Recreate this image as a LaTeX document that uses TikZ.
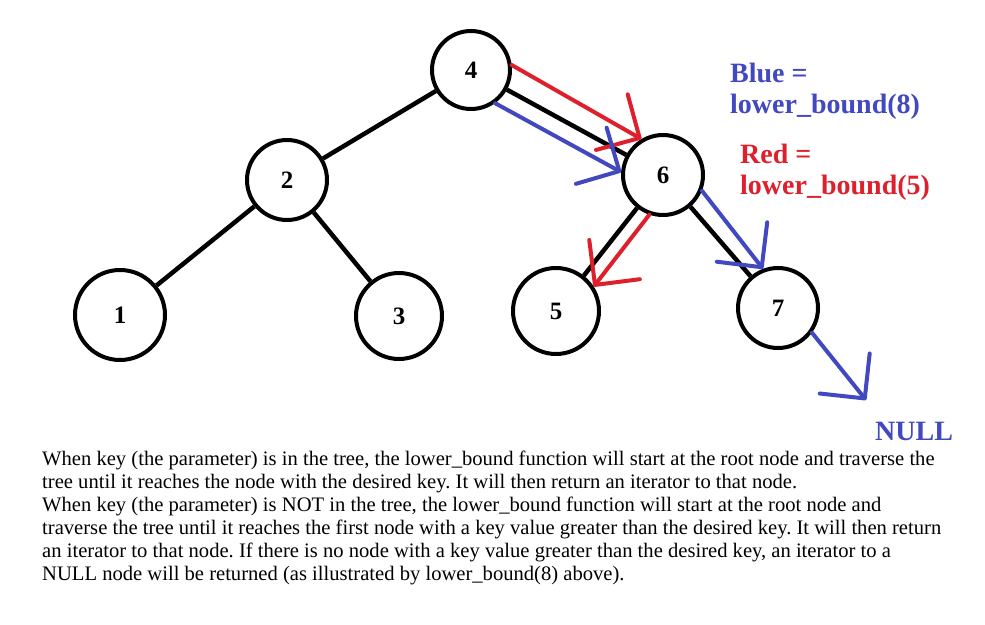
\documentclass[tikz,border=0pt]{standalone}
\usepackage{fontspec}
\setmainfont{Liberation Serif}
\usepackage{tikz}
\usetikzlibrary{arrows.meta}
\definecolor{boundred}{RGB}{222,32,44}
\definecolor{boundblue}{RGB}{66,72,192}
\frenchspacing

\begin{document}
\begin{tikzpicture}[x=1pt, y=-1pt,
    treenode/.style={draw, circle, line width=4pt, minimum size=80pt, inner sep=0,
      font=\fontsize{25}{25}\selectfont\bfseries},
    edge/.style={line width=4.5pt},
    walk/.style={line width=4pt, line cap=round,
      -{Straight Barb[length=32pt, width=64pt, round]}},
    keytext/.style={anchor=base west, inner sep=0, align=left,
      font=\fontsize{28}{31}\selectfont\bfseries}]
    \useasboundingbox (0,0) rectangle (985,624);
    % the tree
    \node[treenode, minimum size=78pt] (n4) at (471,70) {4};
    \node[treenode] (n2) at (287,180) {2};
    \node[treenode] (n6) at (663,175) {6};
    \node[treenode, minimum size=90pt] (n1) at (120,315) {1};
    \node[treenode, minimum size=86pt] (n3) at (399,316) {3};
    \node[treenode, minimum size=86pt] (n5) at (556,311) {5};
    \node[treenode] (n7) at (778,308) {7};
    \draw[edge] (n4) -- (n2);
    \draw[edge] (n2) -- (n1);
    \draw[edge] (n2) -- (n3);
    \draw[edge] (n4) -- (n6);
    \draw[edge] (n6) -- (n5);
    \draw[edge] (n6) -- (n7);
    % lower_bound(5)
    \draw[walk, boundred] (n4.7) -- (n6.121);
    \draw[walk, boundred] (n6.-109) -- (n5.33);
    % lower_bound(8)
    \coordinate (nulltip) at (866,400);
    \draw[walk, boundblue] (n4.-54) -- (n6.176);
    \draw[walk, boundblue] (n6.-22) -- (n7.111);
    \draw[walk, boundblue] (n7.-36) -- (nulltip);
    \node[keytext, text=boundblue] (null) at (875,440) {NULL};
    % legend (base is the last line)
    \node[keytext, text=boundblue] (blue) at (730,113) {Blue =\\lower\_bound(8)};
    \node[keytext, text=boundred] (red) at (740,194) {Red =\\lower\_bound(5)};
    % explanation
    \node[anchor=base west, inner sep=0, align=left,
      font=\fontsize{20.6}{23}\selectfont] (info) at (42,580)
      {When key (the parameter) is in the tree, the lower\_bound function will start at the root node and traverse the\\
       tree until it reaches the node with the desired key. It will then return an iterator to that node.\\
       When key (the parameter) is NOT in the tree, the lower\_bound function will start at the root node and\\
       traverse the tree until it reaches the first node with a key value greater than the desired key. It will then return\\
       an iterator to that node. If there is no node with a key value greater than the desired key, an iterator to a\\
       NULL node will be returned (as illustrated by lower\_bound(8) above).};
\end{tikzpicture}
\end{document}
